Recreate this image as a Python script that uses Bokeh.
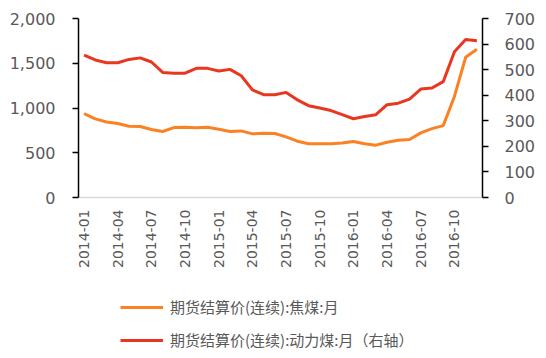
import math
from bokeh.plotting import figure
from bokeh.layouts import column
from bokeh.models import (Range1d, LinearAxis, FixedTicker, NumeralTickFormatter,
                          Legend, LegendItem, ColumnDataSource)
from bokeh.embed import file_html
from bokeh.resources import INLINE

months = [f"{y}-{m:02d}" for y in (2014, 2015, 2016) for m in range(1, 13)]
tick_labels = ["2014-01", "2014-04", "2014-07", "2014-10", "2015-01", "2015-04",
               "2015-07", "2015-10", "2016-01", "2016-04", "2016-07", "2016-10"]
series_names = ["期货结算价(连续):焦煤:月", "期货结算价(连续):动力煤:月（右轴）"]

coke_coal = [937, 878, 844, 826, 796, 793, 759, 737, 781, 785, 778, 785,
             763, 737, 744, 711, 718, 715, 678, 629, 600, 600, 600, 610,
             626, 600, 585, 618, 640, 648, 722, 770, 803, 1129, 1567, 1656]
thermal_coal = [557, 538, 527, 527, 540, 546, 530, 489, 486, 486, 505, 505,
                495, 501, 476, 421, 402, 402, 411, 382, 359, 350, 340, 324,
                308, 317, 324, 363, 369, 385, 424, 428, 453, 570, 618, 613]

x_idx = list(range(len(months)))
src = ColumnDataSource(dict(x=x_idx, coke=coke_coal, thermal=thermal_coal))

FONT = "DejaVu Sans"
GRAY = "#595959"
ORANGE = "#FA8224"
RED = "#E9361F"
W = 538

p = figure(width=W, height=270, output_backend="svg", toolbar_location=None,
           x_range=Range1d(-0.5, len(months) - 0.5), y_range=Range1d(0, 2000),
           min_border_left=78, min_border_right=W - 482, min_border_top=18,
           min_border_bottom=72)
p.outline_line_color = None
p.grid.visible = False
p.extra_y_ranges = {"right": Range1d(0, 700)}

r1 = p.line("x", "coke", source=src, line_color=ORANGE, line_width=3)
r2 = p.line("x", "thermal", source=src, line_color=RED, line_width=3, y_range_name="right")

# x axis
xa = p.xaxis[0]
xa.ticker = FixedTicker(ticks=[months.index(t) for t in tick_labels])
xa.major_label_overrides = {months.index(t): t for t in tick_labels}
xa.major_label_orientation = math.pi / 2
xa.axis_line_color = "#D9D9D9"
xa.axis_line_width = 1.5
xa.major_tick_line_color = None
xa.minor_tick_line_color = None
xa.major_label_text_font = FONT
xa.major_label_text_font_size = "14px"
xa.major_label_text_color = GRAY
xa.major_label_standoff = 6

# left axis
ya = p.yaxis[0]
ya.ticker = FixedTicker(ticks=[0, 500, 1000, 1500, 2000])
ya.formatter = NumeralTickFormatter(format="0,0")
ya.axis_line_color = "black"
ya.axis_line_width = 1.5
ya.major_tick_line_color = "black"
ya.major_tick_line_width = 1.5
ya.major_tick_out = 6
ya.major_tick_in = 0
ya.minor_tick_line_color = None
ya.major_label_text_font = FONT
ya.major_label_text_font_size = "16px"
ya.major_label_text_color = GRAY
ya.major_label_standoff = 17

# right axis
ra = LinearAxis(y_range_name="right", ticker=FixedTicker(ticks=list(range(0, 701, 100))))
ra.axis_line_color = "black"
ra.axis_line_width = 1.5
ra.major_tick_line_color = "black"
ra.major_tick_line_width = 1.5
ra.major_tick_out = 6
ra.major_tick_in = 0
ra.minor_tick_line_color = None
ra.major_label_text_font = FONT
ra.major_label_text_font_size = "16px"
ra.major_label_text_color = GRAY
ra.major_label_standoff = 16
p.add_layout(ra, "right")

# legend panel: a second figure below the chart whose ranges show no data,
# holding only the legend
lg = figure(width=W, height=80, output_backend="svg", toolbar_location=None,
            x_axis_type=None, y_axis_type=None,
            x_range=Range1d(-100, -99), y_range=Range1d(-100, -99),
            min_border_left=0, min_border_right=0, min_border_top=0, min_border_bottom=0)
lg.outline_line_color = None
lg.grid.visible = False
l1 = lg.line("x", "coke", source=src, line_color=ORANGE, line_width=3)
l2 = lg.line("x", "thermal", source=src, line_color=RED, line_width=3)

legend = Legend(items=[
    LegendItem(label=series_names[0], renderers=[l1]),
    LegendItem(label=series_names[1], renderers=[l2]),
], location=(42, 0), orientation="vertical")
legend.label_text_font = "Noto Sans CJK SC"
legend.label_text_font_size = "15px"
legend.label_text_color = GRAY
legend.label_height = 14
legend.glyph_height = 14
legend.glyph_width = 43
legend.label_standoff = 7
legend.spacing = 12
legend.padding = 0
legend.margin = 0
legend.border_line_color = None
legend.background_fill_alpha = 0
lg.add_layout(legend, "center")

layout = column(p, lg, spacing=0)
open("out.html", "w").write(file_html(layout, INLINE))
